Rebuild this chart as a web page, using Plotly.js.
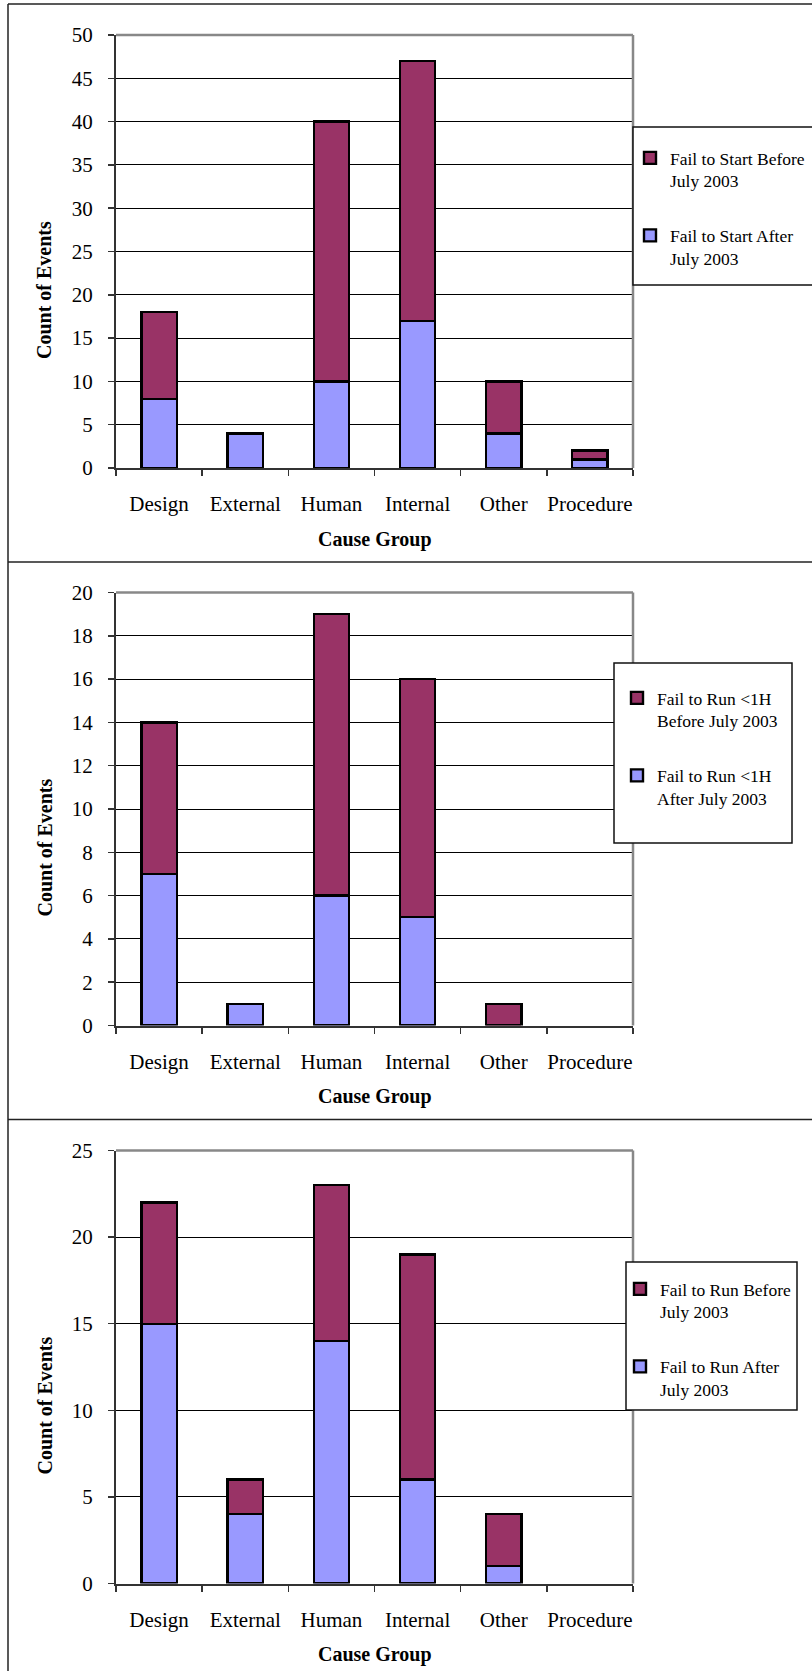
<!DOCTYPE html>
<html>
<head>
<meta charset="utf-8">
<script src="https://cdn.plot.ly/plotly-3.0.1.min.js"></script>
<style>html,body{margin:0;padding:0;background:#fff;}</style>
</head>
<body>
<div id="chart" style="width:812px;height:1671px;"></div>
<script>
// Event counts by cause group, split at July 2003
const categories = ['Design', 'External', 'Human', 'Internal', 'Other', 'Procedure'];

const startBefore = [10, 0, 30, 30, 6, 1];
const startAfter  = [8, 4, 10, 17, 4, 1];

const run1hBefore = [7, 0, 13, 11, 1, 0];
const run1hAfter  = [7, 1, 6, 5, 0, 0];

const runBefore = [7, 2, 9, 13, 3, 0];
const runAfter  = [15, 4, 14, 6, 1, 0];

const seriesNames = [
  ['Fail to Start Before<br>July 2003', 'Fail to Start After<br>July 2003'],
  ['Fail to Run &lt;1H<br>Before July 2003', 'Fail to Run &lt;1H<br>After July 2003'],
  ['Fail to Run Before<br>July 2003', 'Fail to Run After<br>July 2003']
];
const yMax = [50, 20, 25];
const yStep = [5, 2, 5];

// ---- page geometry (pixels) ----
const W = 812, H = 1671;
const px = v => v / W;
const py = v => 1 - v / H;
const FONT = 'Liberation Serif, Times New Roman, serif';
const BEFORE = '#993366', AFTER = '#9999FF';

const panelOffset = [0, 557.5, 1115.5];
const plotLeft = 116, plotRight = 633, plotTop = 35, plotBottom = 468;
const legendBoxes = [[633, 127, 820, 285], [614, 663, 792, 843], [626, 1262, 797, 1410]];
const legendAnchors = [[630, 140], [617, 680], [620, 1271]];

const data = [
  [startBefore, startAfter],
  [run1hBefore, run1hAfter],
  [runBefore, runAfter]
];

// empty segments get no outline
const outline = vals => vals.map(v => (v === 0 ? 0 : 2.4));

const traces = [];
const layout = {
  width: W, height: H,
  margin: {l: 0, r: 0, t: 0, b: 0},
  paper_bgcolor: '#fff',
  plot_bgcolor: '#fff',
  barmode: 'stack',
  showlegend: true,
  font: {family: FONT, color: '#000'},
  shapes: [],
  annotations: []
};

data.forEach((pair, i) => {
  const s = i === 0 ? '' : String(i + 1);
  const off = panelOffset[i];
  const legendId = 'legend' + s;

  // lower segment (after), then upper segment (before)
  traces.push({
    type: 'bar', x: categories, y: pair[1], name: seriesNames[i][1],
    xaxis: 'x' + s, yaxis: 'y' + s, legend: legendId, legendgroup: 'after' + i,
    legendrank: 2,
    width: 0.41,
    marker: {color: AFTER, line: {color: '#000', width: outline(pair[1])}},
    hoverinfo: 'x+y+name'
  });
  traces.push({
    type: 'bar', x: categories, y: pair[0], name: seriesNames[i][0],
    xaxis: 'x' + s, yaxis: 'y' + s, legend: legendId, legendgroup: 'before' + i,
    legendrank: 1,
    width: 0.41,
    marker: {color: BEFORE, line: {color: '#000', width: outline(pair[0])}},
    hoverinfo: 'x+y+name'
  });

  layout['xaxis' + s] = {
    domain: [px(plotLeft), px(plotRight)],
    anchor: 'y' + s,
    type: 'category',
    categoryorder: 'array', categoryarray: categories,
    tickson: 'boundaries',
    ticks: 'outside', ticklen: 6, tickwidth: 1.5, tickcolor: '#333',
    showline: true, linecolor: '#333', linewidth: 2,
    showgrid: false, zeroline: false,
    tickangle: 0,
    tickfont: {family: FONT, size: 21, color: '#000'},
    ticklabelstandoff: 16,
    fixedrange: true
  };
  layout['yaxis' + s] = {
    domain: [py(plotBottom + off), py(plotTop + off)],
    anchor: 'x' + s,
    range: [0, yMax[i]], tick0: 0, dtick: yStep[i],
    ticks: 'outside', ticklen: 6, tickwidth: 1.5, tickcolor: '#333',
    showline: true, linecolor: '#333', linewidth: 2,
    showgrid: true, gridcolor: '#000', gridwidth: 1,
    zeroline: false,
    tickfont: {family: FONT, size: 21, color: '#000'},
    ticklabelstandoff: 11,
    fixedrange: true
  };

  // grey top and right edges of the plot area
  layout.shapes.push({type: 'line', xref: 'x' + s + ' domain', yref: 'y' + s + ' domain',
    x0: 0, x1: 1, y0: 1, y1: 1, line: {color: '#888', width: 2.5}});
  layout.shapes.push({type: 'line', xref: 'x' + s + ' domain', yref: 'y' + s + ' domain',
    x0: 1, x1: 1, y0: 0, y1: 1, line: {color: '#888', width: 2.5}});

  // legend frame
  const b = legendBoxes[i];
  layout.shapes.push({type: 'rect', xref: 'paper', yref: 'paper', layer: 'above',
    x0: px(b[0]), x1: px(b[2]), y0: py(b[3]), y1: py(b[1]),
    fillcolor: '#fff', line: {color: '#111', width: 1.5}});

  const a = legendAnchors[i];
  layout[legendId] = {
    x: px(a[0]), y: py(a[1]), xanchor: 'left', yanchor: 'top',
    bgcolor: 'rgba(0,0,0,0)', borderwidth: 0,
    font: {family: FONT, size: 17.5, color: '#000'},
    traceorder: 'grouped', tracegroupgap: 29,
    valign: 'top'
  };

  // axis titles
  layout.annotations.push({xref: 'paper', yref: 'paper', x: px(44), y: py(290 + off),
    text: 'Count of Events', textangle: -90, showarrow: false,
    xanchor: 'center', yanchor: 'middle',
    font: {family: FONT, size: 20, color: '#000', weight: 'bold'}});
  layout.annotations.push({xref: 'paper', yref: 'paper', x: px(374.5), y: py(539 + off),
    text: 'Cause Group', showarrow: false,
    xanchor: 'center', yanchor: 'middle',
    font: {family: FONT, size: 20, color: '#000', weight: 'bold'}});
});

// outer frame and panel dividers
const frame = {color: '#222', width: 1.5};
layout.shapes.push({type: 'line', xref: 'paper', yref: 'paper', x0: px(8), x1: px(8), y0: 0, y1: py(4), line: frame});
layout.shapes.push({type: 'line', xref: 'paper', yref: 'paper', x0: px(8), x1: 1, y0: py(4), y1: py(4), line: frame});
layout.shapes.push({type: 'line', xref: 'paper', yref: 'paper', x0: px(8), x1: 1, y0: py(562), y1: py(562), line: frame});
layout.shapes.push({type: 'line', xref: 'paper', yref: 'paper', x0: px(8), x1: 1, y0: py(1119.5), y1: py(1119.5), line: frame});

Plotly.newPlot('chart', traces, layout, {displayModeBar: false, staticPlot: true});
</script>
</body>
</html>
